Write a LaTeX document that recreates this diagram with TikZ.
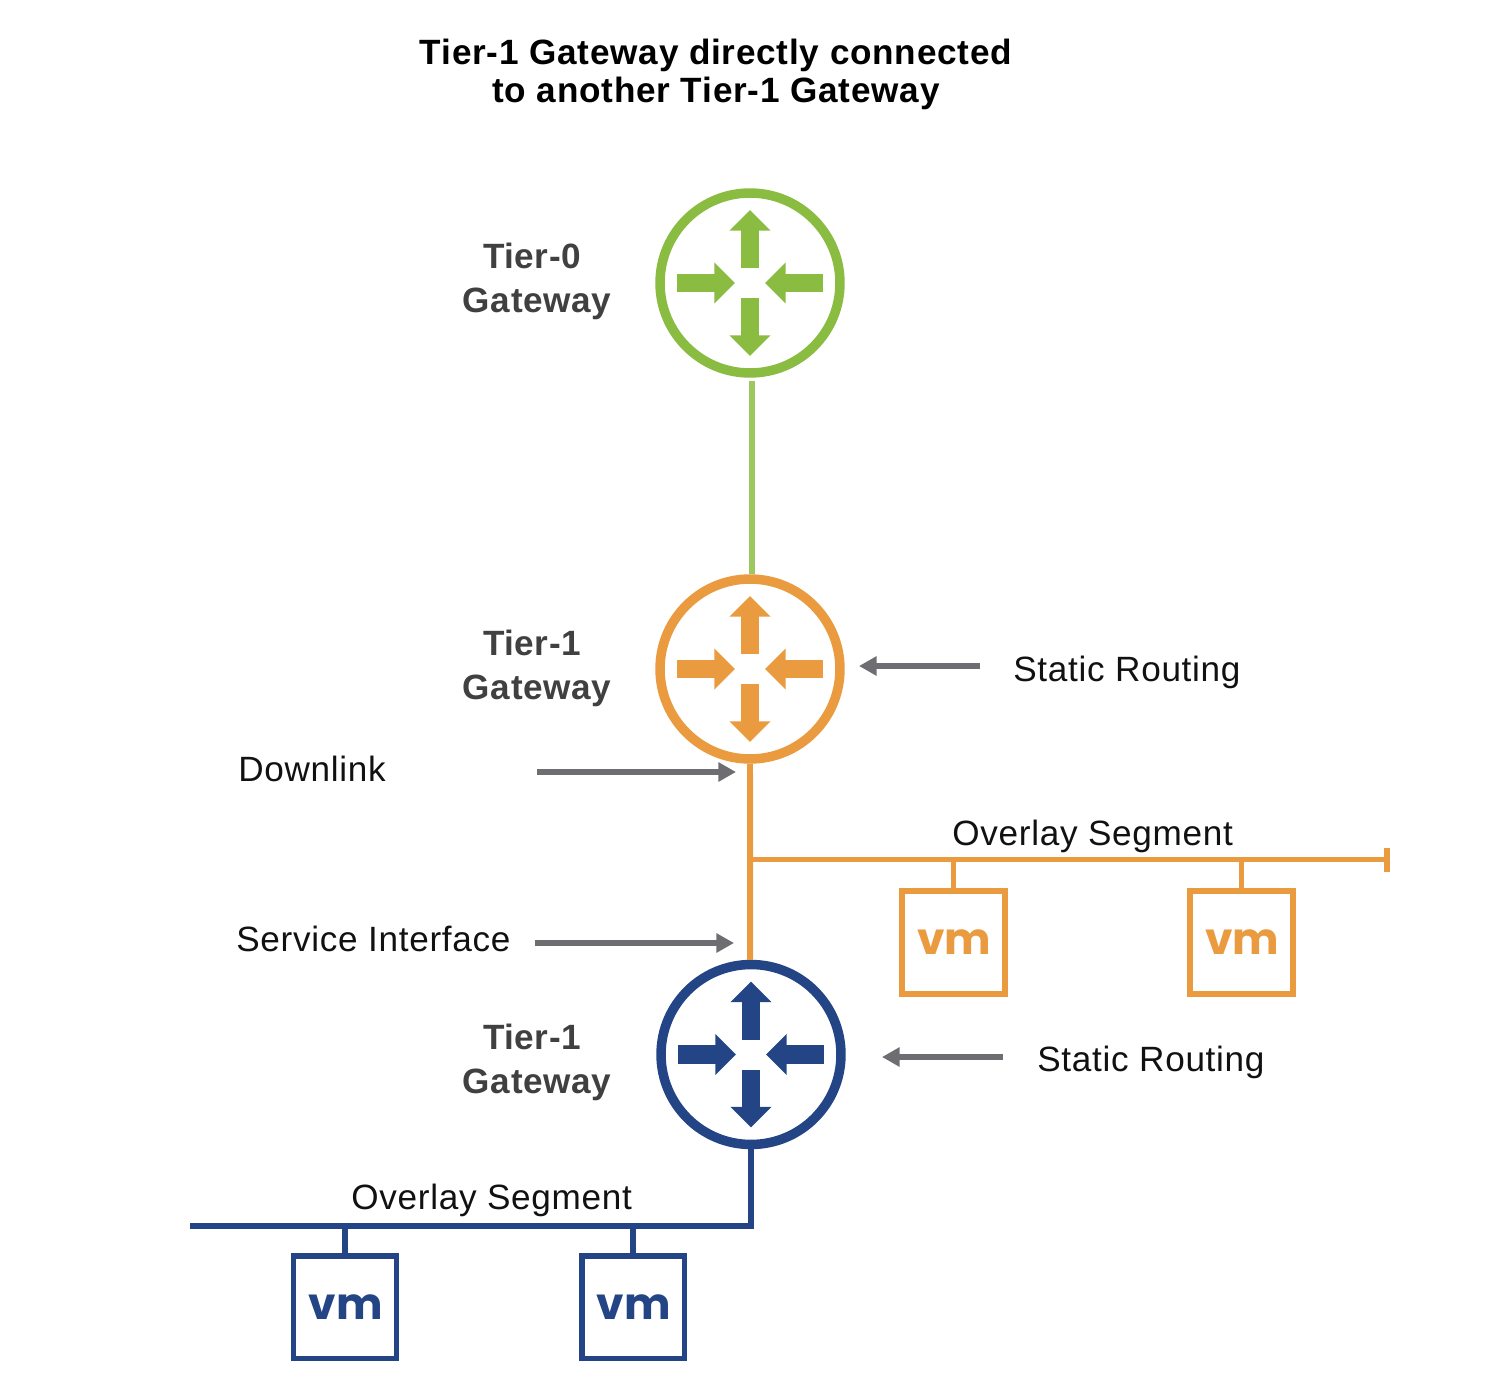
\documentclass[tikz,border=0pt]{standalone}
\usepackage{fontspec}
\setmainfont{Liberation Sans}
\newfontfamily\vmfont{Poppins}
\usetikzlibrary{arrows.meta,calc}
\definecolor{t0green}{HTML}{8ABC42}
\definecolor{t0pale}{HTML}{9CC85F}
\definecolor{t1orange}{HTML}{EA9B3F}
\definecolor{t1blue}{HTML}{234485}
\definecolor{callgray}{HTML}{6E6E72}
\definecolor{namegray}{HTML}{404040}
\definecolor{textblack}{HTML}{111111}
\tikzset{
    gateway/.style={circle, draw=#1, line width=5.4pt, minimum size=3.6cm, inner sep=0pt},
    vmbox/.style={rectangle, draw=#1, text=#1, fill=white, line width=3.4pt, minimum size=2.06cm, inner sep=0pt,
        font=\vmfont\bfseries\fontsize{25}{25}\selectfont},
    wire/.style={draw=#1, line width=3.4pt},
    callout/.style={draw=callgray, line width=3.1pt, -{Triangle[length=10pt,width=10.5pt]}},
    glyph/.style={draw=#1, line width=10.8pt, -{Triangle[length=11.8pt,width=22.7pt]}},
    plain/.style={text=textblack, font=\addfontfeatures{LetterSpace=2}\fontsize{20}{24}\selectfont, anchor=base west, inner sep=0pt},
    gwname/.style={text=namegray, font=\bfseries\addfontfeatures{LetterSpace=1.7}\fontsize{20}{25}\selectfont, align=center, anchor=center, inner sep=0pt},
}
\begin{document}
\begin{tikzpicture}[x=0.02cm, y=-0.02cm]
    \useasboundingbox (0,0) rectangle (1492,1380);

    \node[font=\bfseries\addfontfeatures{LetterSpace=2.2}\fontsize{20}{21.6}\selectfont, align=center, text=black, inner sep=0pt] (title) at (716,74)
        {Tier-1 Gateway directly connected\\to another Tier-1 Gateway};

    % gateways
    \node[gateway=t0green] (gwzero) at (750,283) {};
    \node[gateway=t1orange] (gwupper) at (750,669) {};
    \node[gateway=t1blue] (gwlower) at (751,1054.5) {};
    \foreach \gw/\col in {gwzero/t0green, gwupper/t1orange, gwlower/t1blue} {
        \begin{scope}[shift={(\gw)}]
            \draw[glyph=\col] (0,-15) -- (0,-73);
            \draw[glyph=\col] (0,15) -- (0,73);
            \draw[glyph=\col] (-73,0) -- (-15,0);
            \draw[glyph=\col] (73,0) -- (15,0);
        \end{scope}
    }
    \node[gwname] (namezero) at (537,281) {Tier-0\kern5.6pt\\Gateway};
    \node[gwname] (nameupper) at (537,668) {Tier-1\kern5.6pt\\Gateway};
    \node[gwname] (namelower) at (537,1062) {Tier-1\kern5.6pt\\Gateway};

    % links between gateways
    \draw[wire=t0pale] ([xshift=1.1pt,yshift=-2pt]gwzero.south) -- ([xshift=1.1pt]gwupper.north);
    \draw[wire=t1orange] (gwupper.south) -- ([xshift=-0.5pt]gwlower.north);

    % orange segment
    \coordinate (segupstart) at (750,859.5);
    \coordinate (segupend) at (1387,859.5);
    \draw[wire=t1orange] (segupstart) -- (segupend);
    \draw[wire=t1orange] ($(segupend)+(0,-12)$) -- ($(segupend)+(0,12)$);
    \foreach \vmname/\xpos in {vmupa/953.5, vmupb/1241.5} {
        \node[vmbox=t1orange] (\vmname) at (\xpos,942.5) {\kern1pt\raisebox{-1.2pt}{vm}};
        \draw[wire=t1orange] (\vmname.north |- segupstart) -- (\vmname.north);
    }
    \node[plain] (segupname) at (952,845) {Overlay Segment};

    % blue segment
    \coordinate (seglowstart) at (190,1225.5);
    \coordinate (seglowend) at (751,1225.5);
    \draw[wire=t1blue] (gwlower.south) -- (seglowend) -- (seglowstart);
    \foreach \vmname/\xpos in {vmlowa/345, vmlowb/633} {
        \node[vmbox=t1blue] (\vmname) at (\xpos,1307) {\kern1pt\raisebox{-1.2pt}{vm}};
        \draw[wire=t1blue] (\vmname.north |- seglowstart) -- (\vmname.north);
    }
    \node[plain] (seglowname) at (351,1209) {Overlay Segment};

    % callouts
    \node[plain] (statupper) at (1013,681) {Static Routing};
    \node[plain] (statlower) at (1037,1071) {Static Routing};
    \node[plain] (downname) at (238,781) {Downlink};
    \node[plain] (servname) at (236,951) {Service Interface};
    \coordinate (statupperfrom) at (980,666);
    \coordinate (statupperto) at (859,666);
    \coordinate (statlowerfrom) at (1003,1057);
    \coordinate (statlowerto) at (882,1057);
    \coordinate (downfrom) at (537,772);
    \coordinate (downto) at (736,772);
    \coordinate (servfrom) at (535,943);
    \coordinate (servto) at (734,943);
    \draw[callout] (statupperfrom) -- (statupperto);
    \draw[callout] (statlowerfrom) -- (statlowerto);
    \draw[callout] (downfrom) -- (downto);
    \draw[callout] (servfrom) -- (servto);
\end{tikzpicture}
\end{document}
